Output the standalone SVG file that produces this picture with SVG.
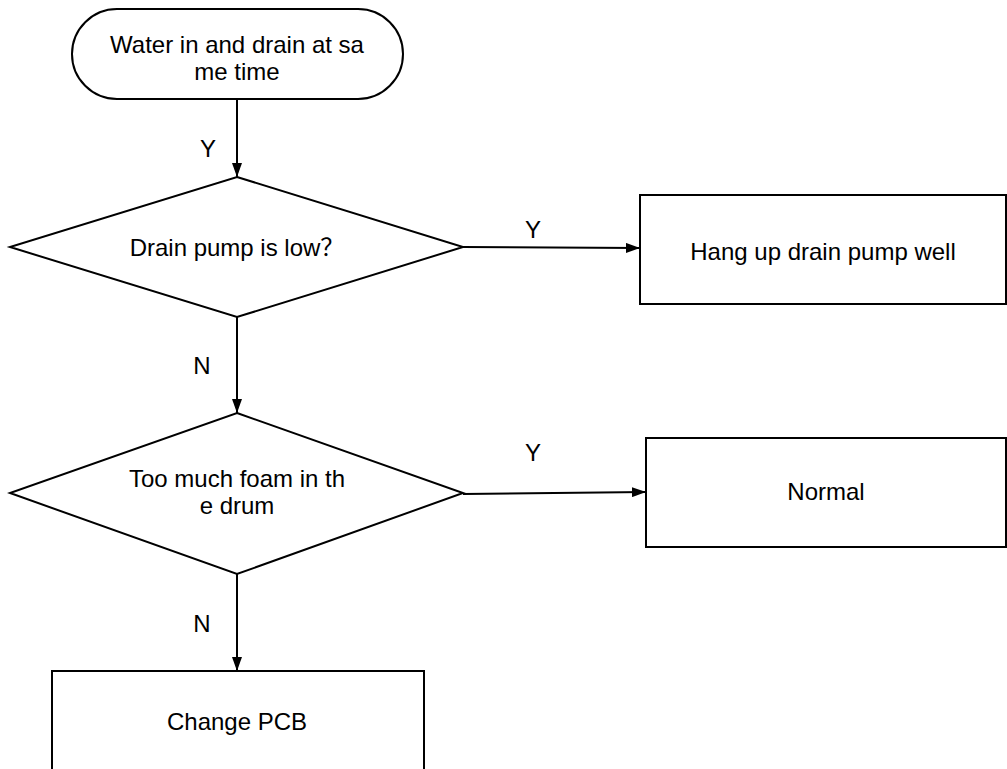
<svg xmlns="http://www.w3.org/2000/svg" width="1007" height="769" viewBox="0 0 1007 769">
<style>
.shape{fill:#fff;stroke:#000;stroke-width:2}
.conn{fill:none;stroke:#000;stroke-width:2}
text{font-family:"Liberation Sans","Noto Sans CJK SC",Arial,sans-serif;font-size:24px;fill:#000;text-anchor:middle}
</style>
<defs>
<marker id="arr" markerUnits="userSpaceOnUse" markerWidth="14" markerHeight="10" refX="14" refY="5" orient="auto">
<path d="M0,0 L14,5 L0,10 z" fill="#000"/>
</marker>
</defs>
<rect width="1007" height="769" fill="#fff"/>
<g id="connectors">
<line class="conn" x1="237" y1="99" x2="237" y2="177" marker-end="url(#arr)"/>
<line class="conn" x1="463" y1="247" x2="640" y2="248" marker-end="url(#arr)"/>
<line class="conn" x1="237" y1="317" x2="237" y2="413" marker-end="url(#arr)"/>
<line class="conn" x1="463" y1="494" x2="646" y2="492" marker-end="url(#arr)"/>
<line class="conn" x1="237" y1="574" x2="237" y2="671" marker-end="url(#arr)"/>
<text x="208" y="157">Y</text>
<text x="533" y="238">Y</text>
<text x="202" y="374">N</text>
<text x="533" y="461">Y</text>
<text x="202" y="632">N</text>
</g>
<g id="start">
<rect class="shape" x="72" y="9" width="331" height="90" rx="45" ry="45"/>
<text x="237" y="53">Water in and drain at sa</text>
<text x="237" y="80">me time</text>
</g>
<g id="decision1">
<polygon class="shape" points="237,177 463,247 237,317 10,247"/>
<text x="237" y="256">Drain pump is low？</text>
</g>
<g id="hangup">
<rect class="shape" x="640" y="195" width="366" height="109"/>
<text x="823" y="260">Hang up drain pump well</text>
</g>
<g id="decision2">
<polygon class="shape" points="237,413 463,493 237,574 10,493"/>
<text x="237" y="487">Too much foam in th</text>
<text x="237" y="514">e drum</text>
</g>
<g id="normal">
<rect class="shape" x="646" y="438" width="360" height="109"/>
<text x="826" y="500">Normal</text>
</g>
<g id="changepcb">
<rect class="shape" x="52" y="671" width="372" height="110"/>
<text x="237" y="730">Change PCB</text>
</g>
</svg>
